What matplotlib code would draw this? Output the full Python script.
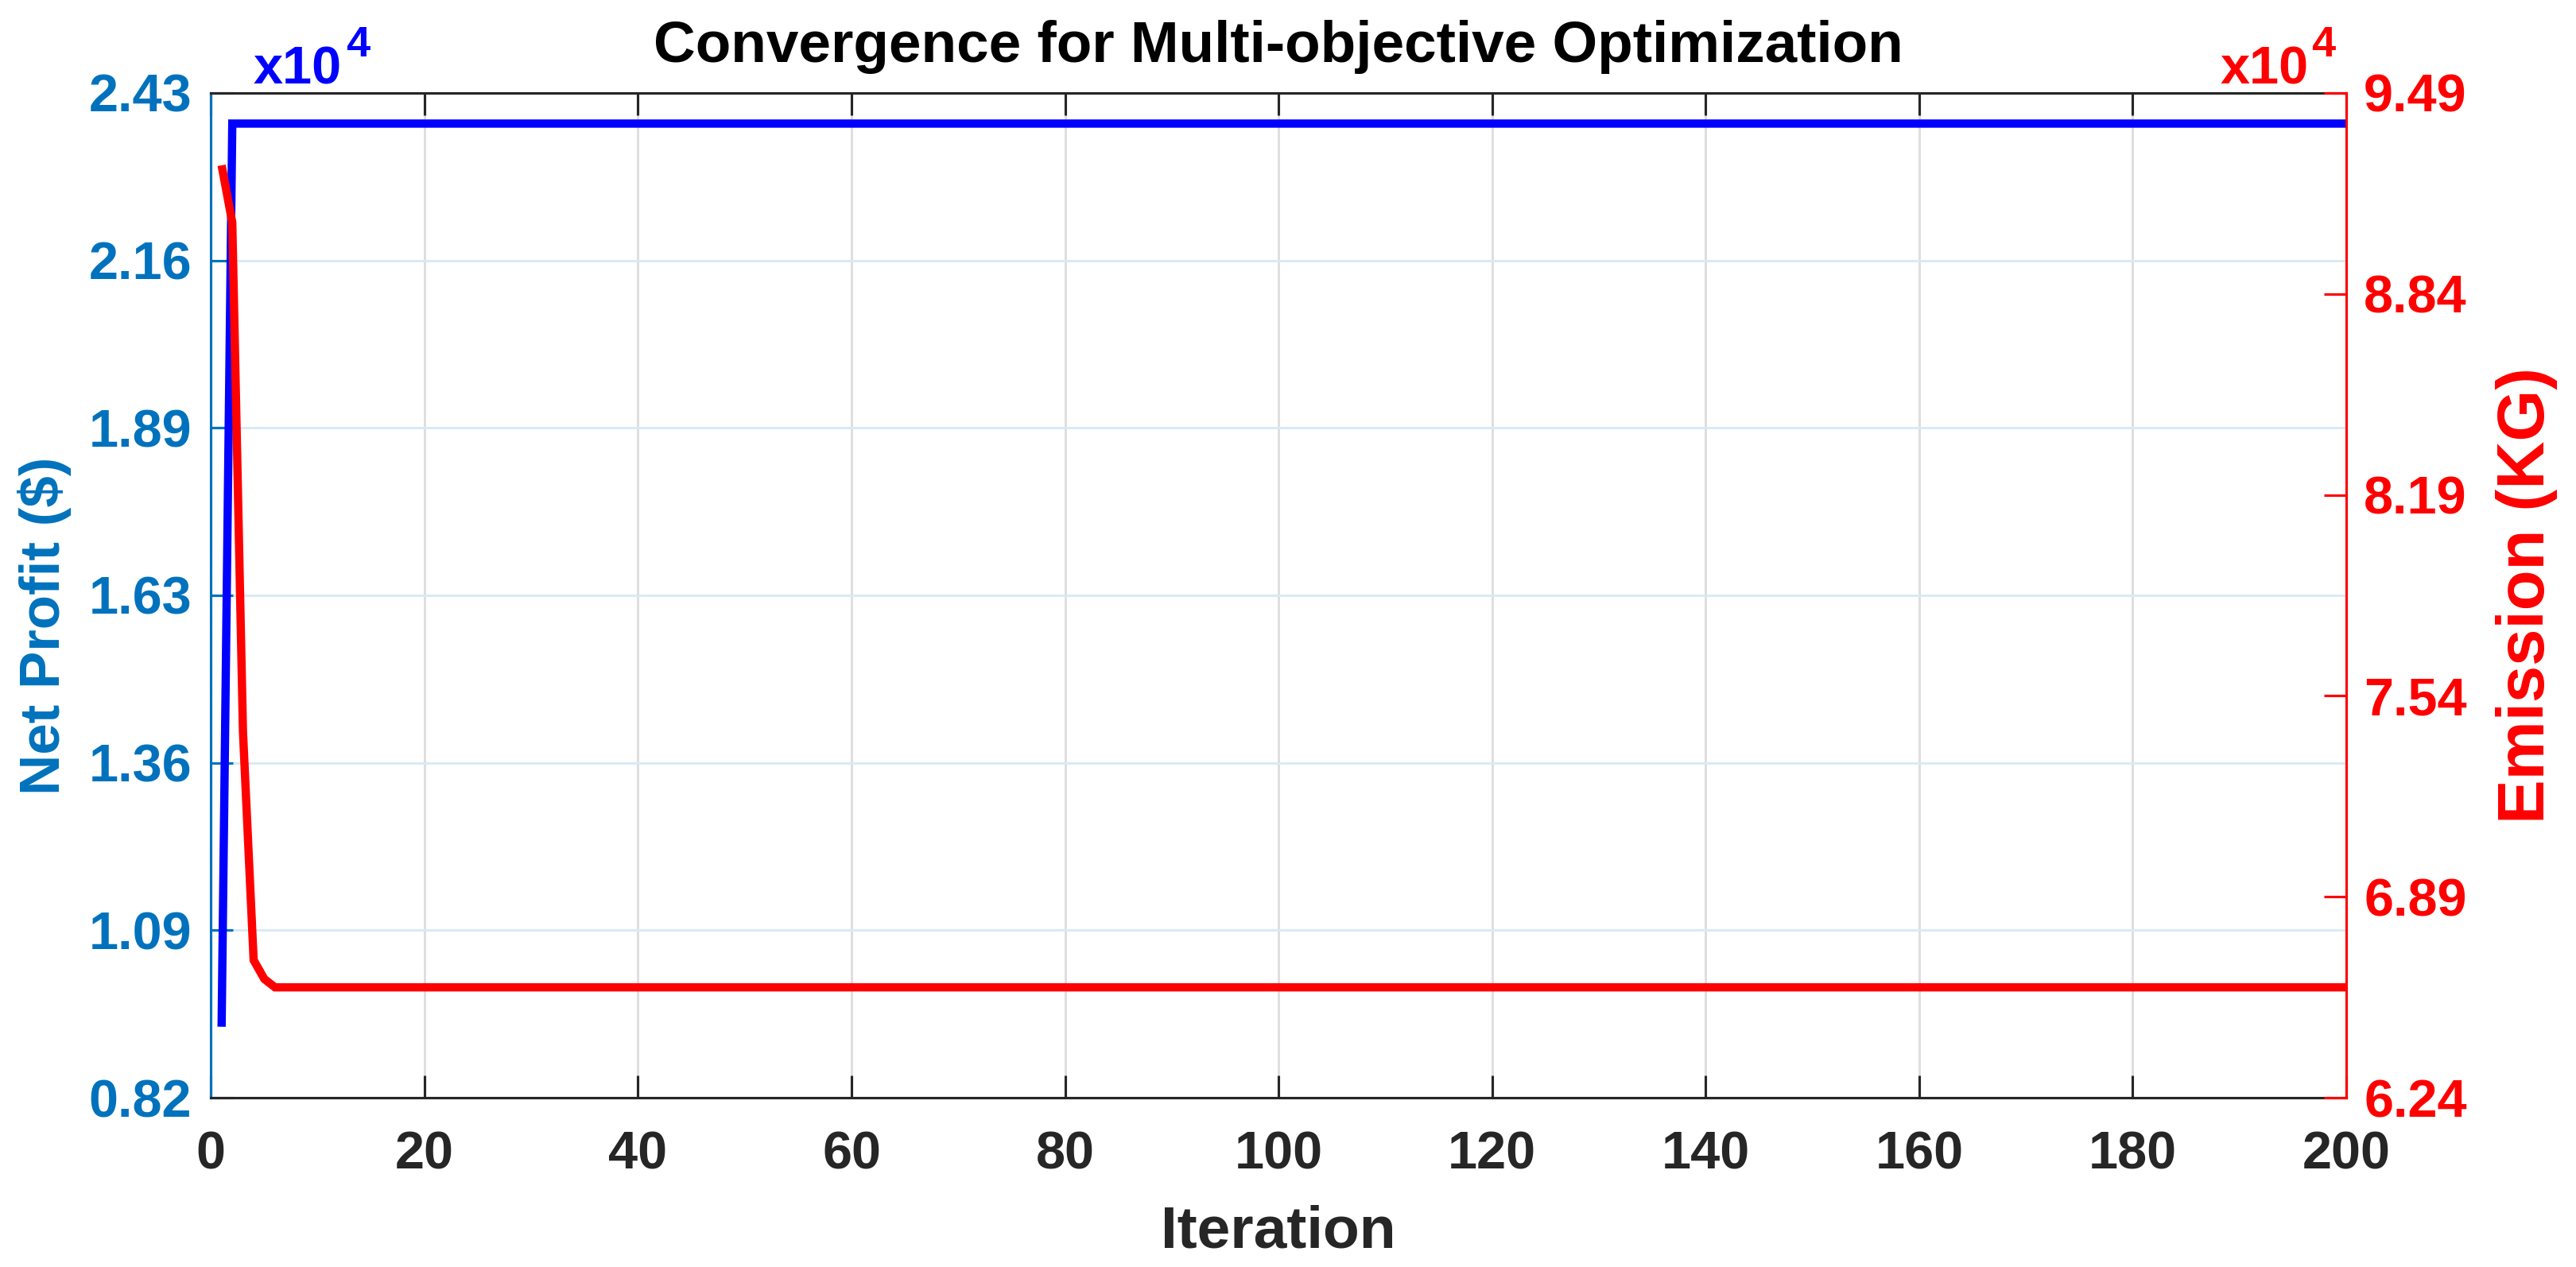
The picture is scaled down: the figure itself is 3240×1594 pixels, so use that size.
import matplotlib
matplotlib.use("Agg")
import matplotlib.pyplot as plt
import numpy as np

# ---------------- data ----------------
n_iter = 200
profit_head = [9337, 23810]          # Net Profit ($), first iterations
profit_plateau = 23810               # value after convergence
emission_head = [92560, 90710, 74250, 66850, 66240, 65970]   # Emission (KG)
emission_plateau = 65970

x_ticks = [0, 20, 40, 60, 80, 100, 120, 140, 160, 180, 200]
left_ticklabels = ['0.82', '1.09', '1.36', '1.63', '1.89', '2.16', '2.43']
right_ticklabels = ['6.24', '6.89', '7.54', '8.19', '8.84', '9.49']
left_lim = (0.82, 2.43)
right_lim = (6.24, 9.49)
scale = 1e4

iterations = np.arange(1, n_iter + 1)
profit = np.array(profit_head + [profit_plateau] * (n_iter - len(profit_head)), dtype=float)
emission = np.array(emission_head + [emission_plateau] * (n_iter - len(emission_head)), dtype=float)

# ---------------- style ----------------
plt.rcParams['font.family'] = ['Liberation Sans', 'DejaVu Sans']
plt.rcParams['font.weight'] = 'bold'

DARK = '#262626'
LBLUE = '#0072BD'
BLUE = '#0000FF'
RED = '#FF0000'

W, H = 3240, 1594
DPI = 300
fig = plt.figure(figsize=(W / DPI, H / DPI), dpi=DPI)

ax_l, ax_r, ax_t, ax_b = 265.3, 2951, 117, 1381
ax = fig.add_axes([ax_l / W, 1 - ax_b / H, (ax_r - ax_l) / W, (ax_b - ax_t) / H])

ax.plot(iterations, profit / scale, color=BLUE, lw=2.5,
        solid_capstyle='butt', solid_joinstyle='miter', zorder=3)
ax.set_xlim(0, 200)
ax.set_ylim(*left_lim)
ax.set_xticks(x_ticks)
ax.set_xticklabels([str(v) for v in x_ticks])
ax.set_yticks(np.linspace(left_lim[0], left_lim[1], len(left_ticklabels)))
ax.set_yticklabels(left_ticklabels)

ax.xaxis.grid(True, color='#DEDEDE', lw=0.7)
ax.yaxis.grid(True, color='#D9EAF5', lw=0.7)
ax.set_axisbelow(True)

ax.tick_params(axis='x', direction='in', length=6.7, width=0.75, color=DARK,
               labelcolor=DARK, labelsize=16, pad=10, top=True)
ax.tick_params(axis='y', direction='in', length=6.7, width=0.75, color=LBLUE,
               labelcolor=LBLUE, labelsize=16, pad=5.8)

for s in ('top', 'bottom'):
    ax.spines[s].set_color(DARK)
    ax.spines[s].set_linewidth(0.75)
ax.spines['left'].set_color(LBLUE)
ax.spines['left'].set_linewidth(0.75)
ax.spines['right'].set_visible(False)

ax2 = ax.twinx()
ax2.plot(iterations, emission / scale, color=RED, lw=2.5,
         solid_capstyle='butt', solid_joinstyle='miter', zorder=3)
ax2.set_ylim(*right_lim)
ax2.set_yticks(np.linspace(right_lim[0], right_lim[1], len(right_ticklabels)))
ax2.set_yticklabels(right_ticklabels)
ax2.tick_params(axis='y', direction='in', length=6.7, width=0.75, color=RED,
                labelcolor=RED, labelsize=16, pad=5.3)
for s in ('left', 'top', 'bottom'):
    ax2.spines[s].set_visible(False)
ax2.spines['right'].set_color(RED)
ax2.spines['right'].set_linewidth(0.75)

# ---------------- texts ----------------
cx = (ax_l + ax_r) / 2 / W
fig.text(cx, 1 - 78 / H, 'Convergence for Multi-objective Optimization',
         ha='center', va='baseline', fontsize=17.5, color='black', fontweight='bold')
fig.text(cx, 1 - 1570 / H, 'Iteration', ha='center', va='baseline',
         fontsize=18, color=DARK, fontweight='bold')
fig.text(56 / W, 1 - 787 / H, 'Net Profit ($)', rotation=90, ha='center', va='center',
         fontsize=17, color=LBLUE, fontweight='bold')
cy = 1 - (ax_t + ax_b) / 2 / H
fig.text(3178 / W, cy, 'Emission (KG)', rotation=90, ha='center', va='center',
         fontsize=20, color=RED, fontweight='bold')

# exponent labels
fig.text(319 / W, 1 - 105 / H, 'x10', ha='left', va='baseline',
         fontsize=16, color=BLUE, fontweight='bold')
fig.text(435 / W, 1 - 71 / H, '4', ha='left', va='baseline',
         fontsize=13, color=BLUE, fontweight='bold')
fig.text(2904 / W, 1 - 105 / H, 'x10', ha='right', va='baseline',
         fontsize=16, color=RED, fontweight='bold')
fig.text(2937 / W, 1 - 71 / H, '4', ha='right', va='baseline',
         fontsize=13, color=RED, fontweight='bold')

fig.savefig('out.png', dpi=DPI, facecolor='white')
